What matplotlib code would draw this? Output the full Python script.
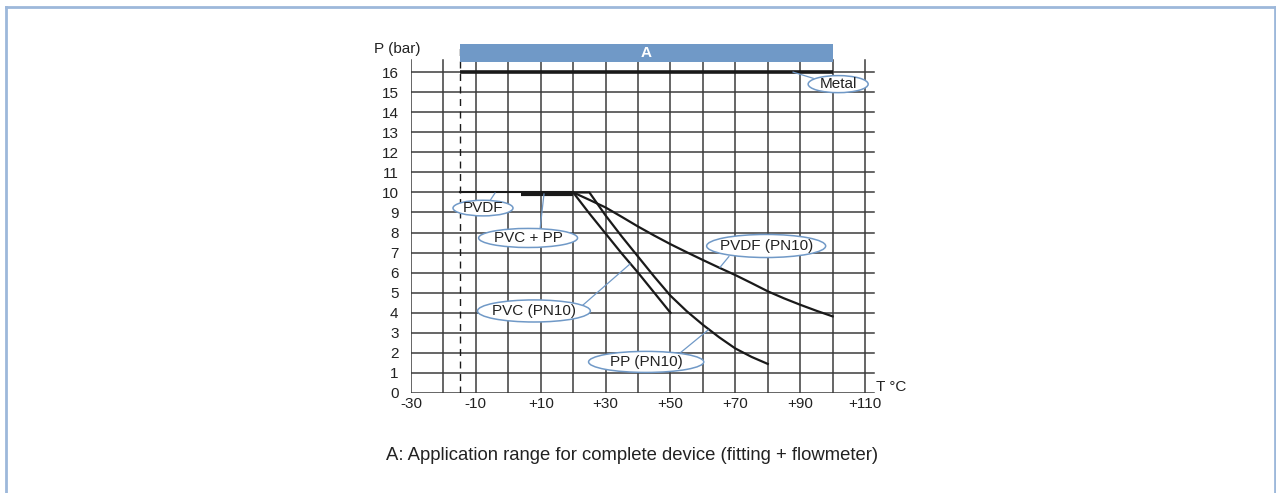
import matplotlib
matplotlib.use('Agg')
import matplotlib.pyplot as plt
from matplotlib.patches import Ellipse, Rectangle
from matplotlib.lines import Line2D

plt.rcParams['font.family'] = ['Liberation Sans', 'DejaVu Sans']

# data
x_ticks = [-30, -10, 10, 30, 50, 70, 90, 110]
x_ticklabels = ['-30', '-10', '+10', '+30', '+50', '+70', '+90', '+110']
x_grid = list(range(-30, 111, 10))
y_ticks = list(range(0, 17))

metal_t = [-15, 100]
metal_p = [16, 16]
pvdf_flat_t = [-15, 20]
pvdf_flat_p = [10, 10]
pvc_pp_t = [4, 20]
pvc_pp_p = [9.93, 9.93]

pvc_t = [20, 25, 30, 35, 40, 45, 50]
pvc_p = [10, 8.95, 7.95, 6.95, 6.0, 5.0, 4.0]
pp_t = [20, 25, 30, 35, 40, 45, 50, 55, 60, 65, 70, 75, 80]
pp_p = [10, 10, 8.85, 7.8, 6.8, 5.8, 4.85, 4.08, 3.4, 2.78, 2.22, 1.8, 1.45]
pvdf_t = [20, 25, 30, 35, 40, 45, 50, 55, 60, 65, 70, 75, 80, 85, 90, 95, 100]
pvdf_p = [10, 9.63, 9.25, 8.78, 8.3, 7.85, 7.42, 7.02, 6.63, 6.25, 5.88, 5.48, 5.07,
          4.72, 4.4, 4.1, 3.82]

range_a = [-15, 100]

# label: (text, centre, width, height, leader start, leader end)
labels = [
    ('Metal', (101.7, 15.4), 18.5, 0.85, (87.8, 16.0), (94.0, 15.69)),
    ('PVDF', (-7.8, 9.22), 18.5, 0.78, (-4.1, 9.97), (-5.6, 9.6)),
    ('PVC + PP', (6.1, 7.73), 30.5, 0.95, (11.0, 9.92), (9.8, 8.2)),
    ('PVC (PN10)', (7.9, 4.09), 34.8, 1.1, (37.5, 6.43), (22.7, 4.34)),
    ('PP (PN10)', (42.5, 1.55), 35.5, 1.05, (61.6, 3.14), (53.0, 2.0)),
    ('PVDF (PN10)', (79.5, 7.33), 36.7, 1.15, (65.3, 6.27), (68.0, 6.8)),
]

blue = '#7099c7'
gridc = '#3c3c3c'
ink = '#1a1a1a'

fig = plt.figure(figsize=(12.76, 4.93), dpi=100)
ax = fig.add_axes([411 / 1276, 100 / 493, 463.8 / 1276, 353 / 493])
ax.set_xlim(-30, 113)
ax.set_ylim(0, 17.6)
for s in ax.spines.values():
    s.set_visible(False)

# grid
for t in x_grid:
    ax.plot([t, t], [0, 16.6], color=gridc, lw=1.1, zorder=1)
for p in y_ticks:
    ax.plot([-30, 112.8], [p, p], color=gridc, lw=1.1, zorder=1)

ax.set_xticks(x_ticks)
ax.set_xticklabels(x_ticklabels)
ax.set_yticks(y_ticks)
ax.tick_params(length=0, labelsize=11, colors='#222222')
ax.tick_params(axis='y', pad=9)
ax.tick_params(axis='x', pad=3)

# application range
ax.plot([range_a[0], range_a[0]], [0, 17.4], color=ink, lw=1, ls=(0, (5, 4)), zorder=2)
ax.add_patch(Rectangle((range_a[0], 16.5), range_a[1] - range_a[0], 0.9,
                       facecolor=blue, edgecolor='none', zorder=3))
ax.text(sum(range_a) / 2, 16.95, 'A', color='white', fontsize=11, fontweight='bold',
        ha='center', va='center', zorder=4)

# curves
ax.plot(metal_t, metal_p, color=ink, lw=2.6, zorder=4, solid_capstyle='butt')
ax.plot(pvdf_flat_t, pvdf_flat_p, color=ink, lw=1.5, zorder=4)
ax.plot(pvc_pp_t, pvc_pp_p, color=ink, lw=3, zorder=4, solid_capstyle='butt')
ax.plot(pvc_t, pvc_p, color=ink, lw=1.6, zorder=4)
ax.plot(pp_t, pp_p, color=ink, lw=1.6, zorder=4)
ax.plot(pvdf_t, pvdf_p, color=ink, lw=1.6, zorder=4)

# labels
for text, c, w, h, a, b in labels:
    ax.plot([a[0], b[0]], [a[1], b[1]], color=blue, lw=0.9, zorder=5)
    ax.add_patch(Ellipse(c, w, h, facecolor='white', edgecolor=blue, lw=1.1, zorder=6))
    ax.text(c[0], c[1], text, fontsize=11, ha='center', va='center', color='#222222', zorder=7)

ax.text(-34.3, 17.17, 'P (bar)', fontsize=11, ha='center', va='center', color='#222222')
ax.text(113.3, 0.3, 'T °C', fontsize=11, ha='left', va='center', color='#222222')

fig.text(632 / 1276, 1 - 455 / 493, 'A: Application range for complete device (fitting + flowmeter)',
         fontsize=13.3, ha='center', va='center', color='#222222')

# outer frame
bc = '#9db8da'
fig.add_artist(Line2D([6 / 1276, 6 / 1276], [0, 1 - 6.5 / 493], color=bc, lw=2))
fig.add_artist(Line2D([6 / 1276, 1274.5 / 1276], [1 - 6.5 / 493, 1 - 6.5 / 493], color=bc, lw=2))
fig.add_artist(Line2D([1274.5 / 1276, 1274.5 / 1276], [0, 1 - 6.5 / 493], color=bc, lw=2))

fig.savefig('out.png', dpi=100)
